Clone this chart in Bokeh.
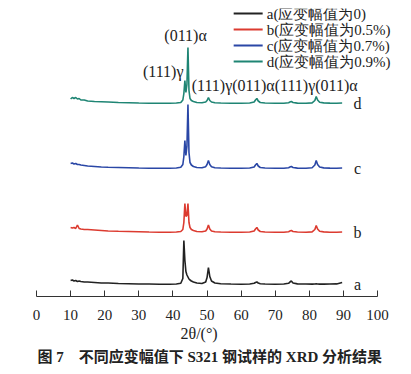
from bokeh.plotting import figure
from bokeh.models import Range1d, FixedTicker, Title
from bokeh.embed import file_html
from bokeh.resources import INLINE

# ---- data ----
two_theta = [10, 10.5, 11, 11.5, 12, 12.5, 13, 14, 15, 17,
             19, 21, 24, 27, 30, 33, 36, 39, 41, 42.3,
             42.9, 43.2, 43.5, 43.8, 44.1, 44.4, 44.7, 45.0, 45.4, 46.0,
             47.0, 48.5, 49.6, 50.0, 50.4, 50.8, 51.3, 52.3, 54, 57,
             60, 62.5, 63.8, 64.2, 64.6, 65.0, 65.6, 67, 70, 72.5,
             73.9, 74.3, 74.7, 75.2, 76.5, 79, 80.8, 81.6, 82.0, 82.4,
             83.0, 84.2, 86, 88, 89.6]

int_a = [4, 4.5, 3.5, 4, 3, 3.5, 3, 2.5, 2.5, 2,
         1.5, 1.5, 1, 0.8, 0.5, 0.5, 0.3, 0.3, 0.5, 1.2,
         6, 44, 24, 13, 9.5, 7.5, 5.5, 4.5, 3.5, 2.5,
         1.5, 1, 2.5, 7, 17, 8, 3.5, 1.5, 0.8, 0.5,
         0.3, 0.5, 1.2, 2, 2.5, 1.5, 0.8, 0.5, 0.3, 0.5,
         1.2, 2.5, 3.5, 1.5, 0.6, 0.5, 0.4, 0.5, 0.6, 0.5,
         0.4, 0.4, 0.5, 0.6, 2]

int_b = [5, 4.5, 5, 4, 7.5, 4, 3.5, 3, 3, 2.5,
         2, 1.5, 1.2, 1, 0.8, 0.5, 0.3, 0.3, 0.5, 1,
         3, 10, 29, 16, 17, 29, 10, 5, 3, 2,
         1, 0.8, 1.5, 3.5, 7.5, 3.5, 1.5, 0.8, 0.5, 0.3,
         0.3, 0.5, 1.5, 3.5, 5, 2.5, 1, 0.5, 0.3, 0.3,
         0.8, 1.5, 2, 1, 0.5, 0.3, 0.6, 3, 7, 3.5,
         1.2, 0.6, 0.3, 0.3, 0.5]

int_c = [5, 5.5, 4.5, 5, 4, 4, 3.5, 3, 2.5, 2,
         1.5, 1.2, 1, 0.8, 0.5, 0.3, 0.2, 0.2, 0.5, 1.2,
         4, 12, 28, 13, 22, 64, 16, 6, 3.5, 2,
         1, 0.8, 1.8, 4, 8, 4, 1.8, 0.8, 0.5, 0.3,
         0.3, 0.5, 1.5, 3.5, 5, 2.5, 1, 0.5, 0.3, 0.3,
         0.8, 1.5, 2, 1, 0.4, 0.3, 0.8, 3.5, 8, 4,
         1.5, 0.6, 0.4, 0.3, 0.5]

int_d = [4.5, 6, 5, 6, 4.5, 5, 3.5, 3.5, 2.5, 2,
         1.8, 1.5, 1, 0.8, 0.5, 0.3, 0.2, 0.2, 0.5, 1,
         3.5, 10, 23, 11, 19, 56, 13, 5, 3, 2,
         1, 0.8, 1.5, 3, 6, 3, 1.5, 0.8, 0.5, 0.3,
         0.3, 0.5, 1.5, 3.5, 5, 2.5, 1, 0.5, 0.3, 0.3,
         0.8, 1.5, 2, 1, 0.4, 0.3, 0.6, 3, 7, 3.5,
         1.2, 0.6, 0.4, 0.3, 0.5]

series_keys = ["a", "b", "c", "d"]
series_names = ["a(应变幅值为0)", "b(应变幅值为0.5%)", "c(应变幅值为0.7%)", "d(应变幅值为0.9%)"]
offsets = [12, 64, 128, 193]
x_ticks = [0, 10, 20, 30, 40, 50, 60, 70, 80, 90, 100]

peak_top = "(011)α"
peak_left = "(111)γ"
peak_row = "(111)γ(011)α(111)γ(011)α"
x_title = "2θ/(°)"
caption = "图 7\u2003不同应变幅值下 S321 钢试样的 XRD 分析结果"

# ---- styles / layout ----
colors = ["#222222", "#dc3b30", "#2a47a6", "#1f8574"]
SERIF = "'Liberation Serif', 'Noto Sans CJK SC'"
LEG_X0, LEG_X1, LEG_TX = 57.8, 66.3, 67.5      # legend sample / text x (axis units)
LEG_TOP, LEG_STEP = 283, 16                      # legend first row y and row pitch

# frame extends past 100 so the legend text is not clipped; axis line stops at 100
p = figure(width=403, height=374, output_backend="svg", toolbar_location=None,
           x_range=Range1d(0, 107), y_range=Range1d(0, 288), y_axis_type=None,
           min_border_left=36, min_border_right=2, min_border_top=8,
           min_border_bottom=78)
p.outline_line_color = None
p.xgrid.visible = False
p.ygrid.visible = False
p.background_fill_color = "white"

intens = [int_a, int_b, int_c, int_d]
for i, (key, name, off, vals, col) in enumerate(
        zip(series_keys, series_names, offsets, intens, colors)):
    ys = [v + off for v in vals]
    p.line(two_theta, ys, line_color=col, line_width=1.6)
    p.text(x=[94.1], y=[off], text=[key], text_font=SERIF,
           text_font_size="16px", text_align="center", text_baseline="middle",
           text_color="#222222")
    # legend row
    ly = LEG_TOP - i * LEG_STEP
    p.segment(x0=[LEG_X0], y0=[ly], x1=[LEG_X1], y1=[ly], line_color=col, line_width=2)
    p.text(x=[LEG_TX], y=[ly], text=[name], text_font=SERIF, text_font_size="15px",
           text_align="left", text_baseline="middle", text_color="#222222")

p.text(x=[43.7], y=[261], text=[peak_top], text_font=SERIF, text_font_size="16px",
       text_align="center", text_baseline="middle", text_color="#222222")
p.text(x=[43.1], y=[225], text=[peak_left], text_font=SERIF, text_font_size="16px",
       text_align="right", text_baseline="middle", text_color="#222222")
p.text(x=[45.5], y=[211], text=[peak_row], text_font=SERIF, text_font_size="16px",
       text_align="left", text_baseline="middle", text_color="#222222")

ax = p.xaxis[0]
ax.bounds = (0, 100)
ax.ticker = FixedTicker(ticks=x_ticks)
ax.major_tick_in = 6
ax.major_tick_out = 0
ax.minor_tick_line_color = None
ax.axis_line_color = "#333333"
ax.major_tick_line_color = "#333333"
ax.major_label_text_font = SERIF
ax.major_label_text_font_size = "15px"
ax.major_label_text_color = "#222222"
ax.major_label_standoff = 13

# axis title and figure caption as below-titles (frame is wider than the axis)
p.add_layout(Title(text=x_title, align="left", text_font=SERIF,
                   text_font_size="16px", text_font_style="normal",
                   text_color="#222222", standoff=1, offset=144), "below")
p.add_layout(Title(text=caption, align="left", text_font=SERIF,
                   text_font_size="15px", text_font_style="bold",
                   text_color="#222222", standoff=8, offset=1), "below")

open("out.html", "w").write(file_html(p, INLINE))
